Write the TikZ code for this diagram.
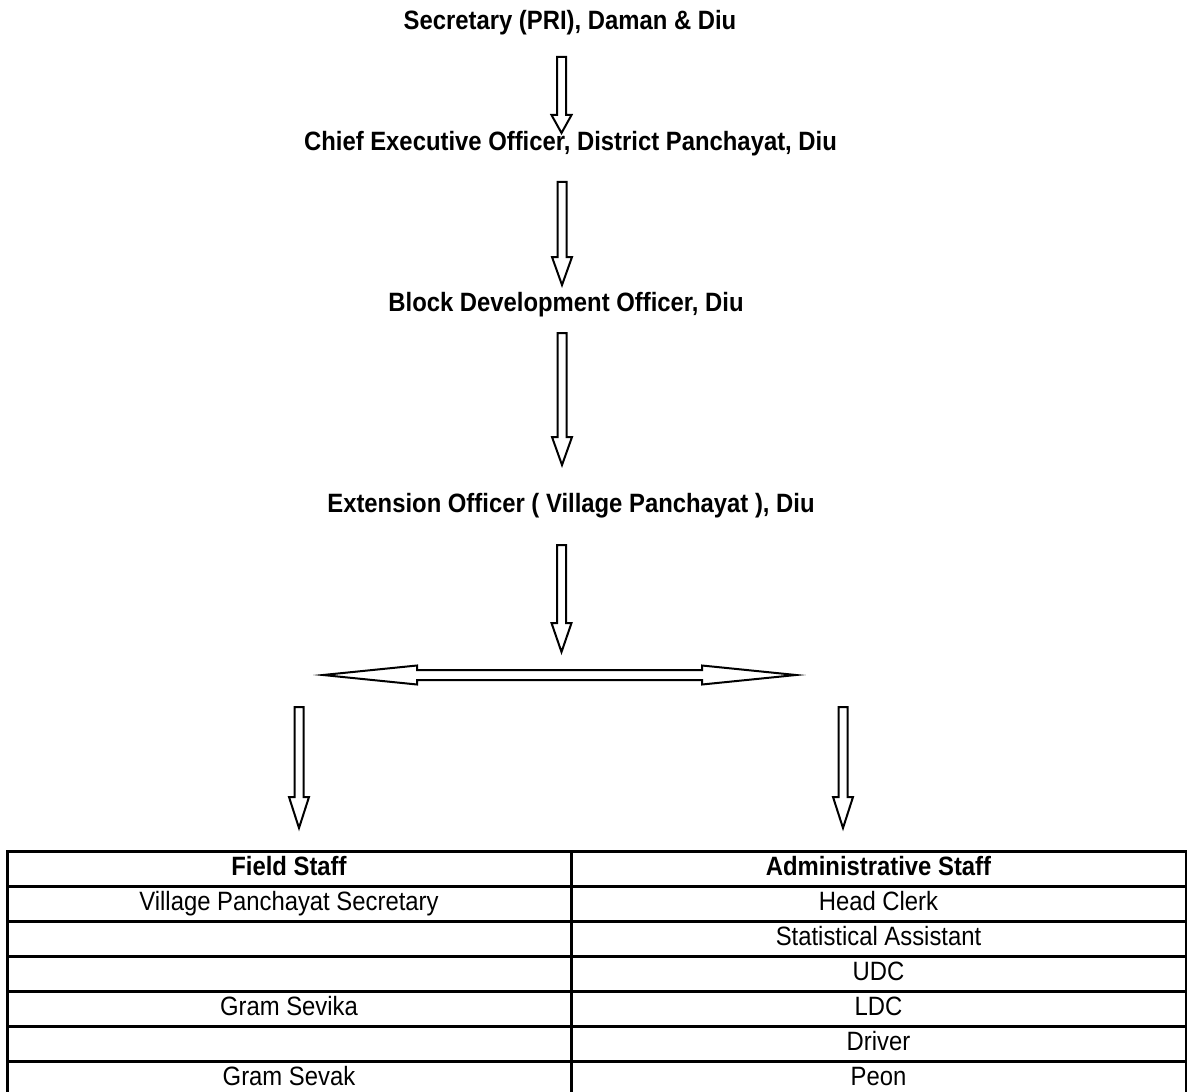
\documentclass[tikz,border=0pt]{standalone}
\usepackage{fontspec}
\setmainfont{Liberation Sans}[FakeStretch=0.9]
\usetikzlibrary{calc}
\tikzset{title/.style={font=\bfseries\fontsize{13.25}{15}\selectfont, inner sep=0pt},
         cell/.style={draw, line width=1.5pt, minimum height=17.5pt, inner sep=0pt,
                      text height=9.5pt, text depth=2.7pt, font=\fontsize{13.25}{15}\selectfont},
         downarrow/.style={draw, line width=1pt, to path={
             let \p1=(\tikztostart), \p2=(\tikztotarget) in
             (\x1-2.25pt,\y1) -- (\x1-2.25pt,\y2+#1) -- (\x1-5pt,\y2+#1) -- (\x1,\y2)
             -- (\x1+5pt,\y2+#1) -- (\x1+2.25pt,\y2+#1) -- (\x1+2.25pt,\y1) -- cycle}},
         downarrow/.default=14pt,
         bothways/.style={draw, line width=1pt, to path={
             let \p1=(\tikztostart), \p2=(\tikztotarget) in
             (\x1,\y1) -- (\x1+47pt,\y1+4.75pt) -- (\x1+47pt,\y1+2.5pt) -- (\x2-47pt,\y1+2.5pt)
             -- (\x2-47pt,\y1+4.75pt) -- (\x2,\y1) -- (\x2-47pt,\y1-4.75pt) -- (\x2-47pt,\y1-2.5pt)
             -- (\x1+47pt,\y1-2.5pt) -- (\x1+47pt,\y1-4.75pt) -- cycle}},
        }

\begin{document}
\begin{tikzpicture}[x=0.5pt, y=-0.5pt, line join=miter]
        \useasboundingbox (0,0) rectangle (1187,1091);

        \node[title](sec)at(570,23){Secretary (PRI), Daman \& Diu};
        \node[title](ceo)at(570.5,144){Chief Executive Officer, District Panchayat, Diu};
        \node[title](bdo)at(566,305){Block Development Officer, Diu};
        \node[title](eo)at(571,506){Extension Officer ( Village Panchayat ), Diu};

        \coordinate(a1s)at(561.5,57);  \coordinate(a1e)at(561.5,133);
        \coordinate(a2s)at(562,182);   \coordinate(a2e)at(562,285);
        \coordinate(a3s)at(562,333);   \coordinate(a3e)at(562,465);
        \coordinate(a4s)at(561.5,545); \coordinate(a4e)at(561.5,652);
        \coordinate(bl)at(323,675);    \coordinate(br)at(796,675);
        \coordinate(fs)at(299,707);    \coordinate(fe)at(299,828);
        \coordinate(as)at(843,707);    \coordinate(ae)at(843,828);

        \draw[downarrow=9pt](a1s) to (a1e);
        \draw[downarrow](a2s) to (a2e);
        \draw[downarrow](a3s) to (a3e);
        \draw[downarrow=14.5pt](a4s) to (a4e);
        \draw[bothways](bl) to (br);
        \draw[downarrow=15.5pt](fs) to (fe);
        \draw[downarrow=15.5pt](as) to (ae);

        % staff table
        \foreach \i/\f/\a in {0/\textbf{Field Staff}/\textbf{Administrative Staff},
                              1/Village Panchayat Secretary/Head Clerk,
                              2//Statistical Assistant, 3//UDC, 4/Gram Sevika/LDC,
                              5//Driver, 6/Gram Sevak/Peon}{
            \node[cell, minimum width=282pt](f\i)at(289,868.5+35*\i){\f};
            \node[cell, minimum width=307.5pt](s\i)at(878.5,868.5+35*\i){\a};
        }
    \end{tikzpicture}
\end{document}
